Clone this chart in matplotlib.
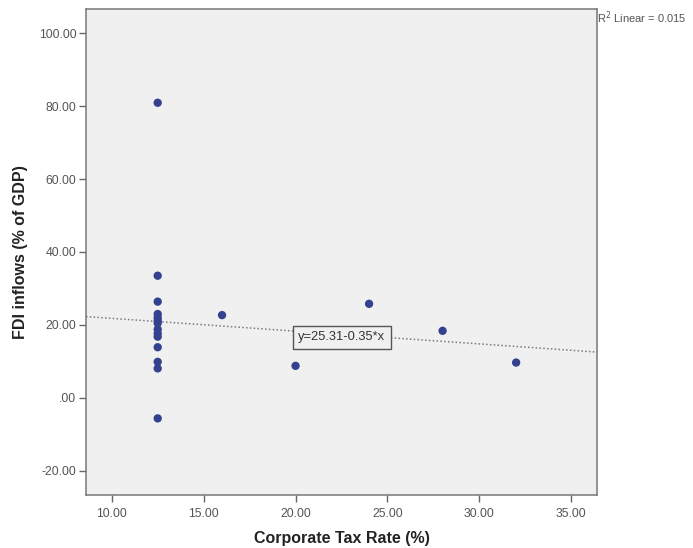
import matplotlib
matplotlib.use("Agg")
import matplotlib.pyplot as plt
import numpy as np
from matplotlib.ticker import FuncFormatter

plt.rcParams["font.family"] = ["Liberation Sans", "DejaVu Sans"]

# corporate tax rate (%) and FDI inflows (% of GDP) per country
tax_rate = [12.5, 12.5, 12.5, 12.5, 12.5, 12.5, 12.5, 12.5, 12.5, 12.5,
            12.5, 12.5, 12.5, 12.5, 16.0, 20.0, 24.0, 28.0, 32.0]
fdi = [80.9, 33.5, 26.4, 23.0, 22.0, 21.2, 20.5, 18.8, 17.7, 16.8,
       13.9, 9.9, 8.1, -5.6, 22.7, 8.8, 25.8, 18.4, 9.7]

intercept = 25.31
slope = -0.35
r_squared = 0.015

x_ticks = [10, 15, 20, 25, 30, 35]
y_ticks = [-20, 0, 20, 40, 60, 80, 100]


def spss_fmt(value, pos=None):
    text = f"{value:.2f}"
    if text == "0.00":
        return ".00"
    return text


fig = plt.figure(figsize=(6.93, 5.48), dpi=100)
ax = fig.add_axes([0.1241, 0.0967, 0.7374, 0.8869])
ax.set_facecolor("#f0f0f0")

xlim = (8.6, 36.4)
ylim = (-26.6, 106.6)
ax.set_xlim(*xlim)
ax.set_ylim(*ylim)

line_x = np.array(xlim)
ax.plot(line_x, intercept + slope * line_x, linestyle=(0, (1, 1.5)),
        color="#7a7a7a", linewidth=1.1, zorder=2)

ax.scatter(tax_rate, fdi, s=36, color="#34418f", edgecolors="none", zorder=3)

ax.text(20.15, 16.6, f"y={intercept:.2f}{slope:.2f}*x", fontsize=9.3,
        color="#333333", ha="left", va="center", zorder=4,
        bbox=dict(boxstyle="square,pad=0.4", facecolor="#f0f0f0",
                  edgecolor="#555555", linewidth=1.0))

fig.text(0.862, 0.968, f"R$^2$ Linear = {r_squared:.3f}", fontsize=8,
         color="#555555", ha="left", va="center")

ax.set_xticks(x_ticks)
ax.set_yticks(y_ticks)
ax.xaxis.set_major_formatter(FuncFormatter(spss_fmt))
ax.yaxis.set_major_formatter(FuncFormatter(spss_fmt))
ax.tick_params(axis="both", direction="out", length=5, width=1,
               color="#666666", labelcolor="#555555", labelsize=8.8)
ax.tick_params(axis="x", pad=4)
ax.tick_params(axis="y", pad=2)

for side in ["left", "bottom", "top", "right"]:
    ax.spines[side].set_color("#777777")
    ax.spines[side].set_linewidth(1.1)

ax.set_xlabel("Corporate Tax Rate (%)", fontsize=11.5, fontweight="bold",
              color="#222222", labelpad=8)
ax.set_ylabel("FDI inflows (% of GDP)", fontsize=11.5, fontweight="bold",
              color="#222222", labelpad=8)

fig.savefig("out.png", dpi=100, facecolor="white")
plt.close(fig)
